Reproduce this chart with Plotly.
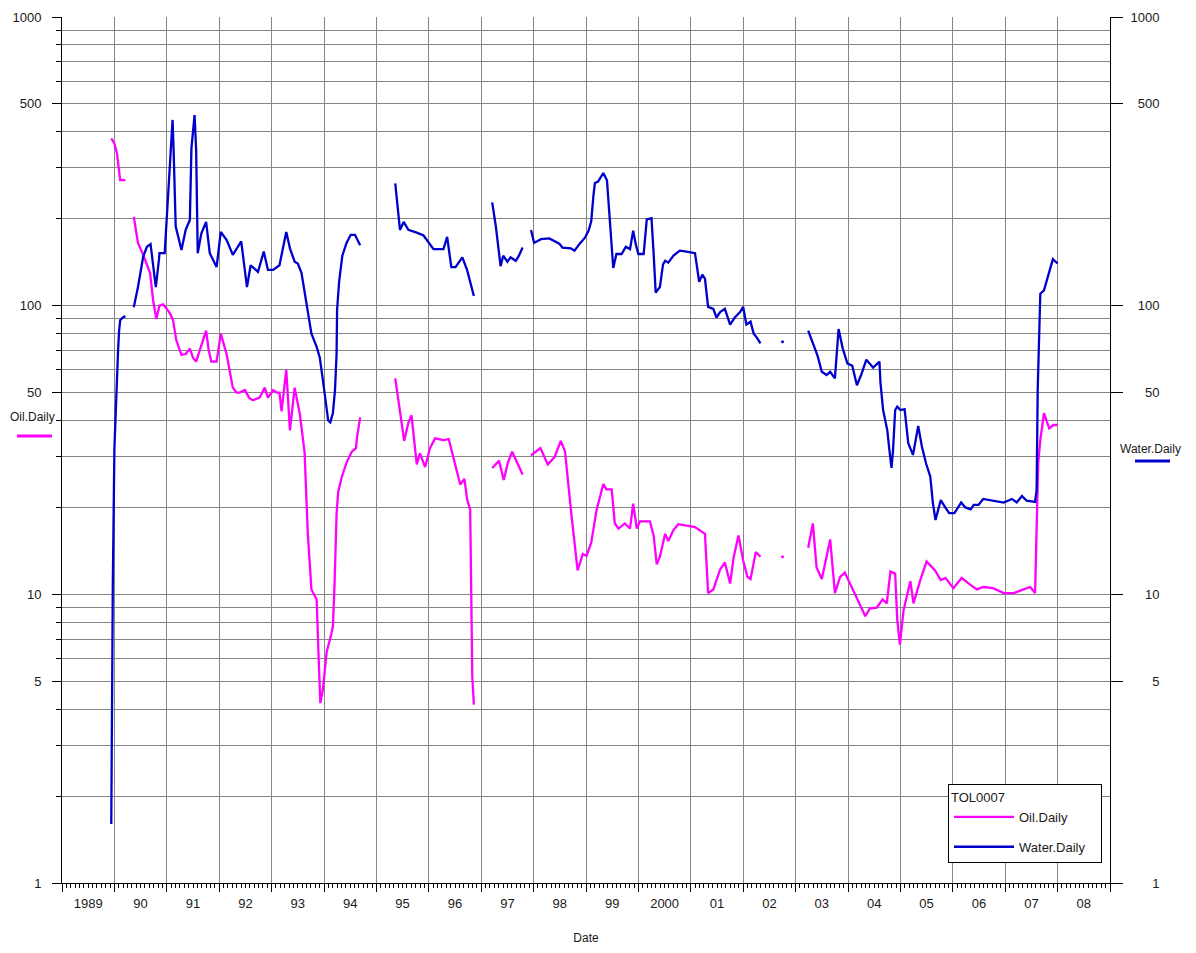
import plotly.graph_objects as go

# ---------------- data (decimal years, None = gap in record) ----------------
oil_year = [
    1989.94, 1990.00, 1990.05, 1990.09, 1990.11, 1990.21, None,
    1990.37, 1990.45, 1990.55, 1990.62, 1990.68, 1990.74, 1990.80, 1990.86, 1990.93, 1990.99,
    1991.06, 1991.12, 1991.18, 1991.28, 1991.36, 1991.44, 1991.50, 1991.56, 1991.65, 1991.75,
    1991.80, 1991.85, 1991.95, 1992.03, 1992.14, 1992.20, 1992.26, 1992.33, 1992.39, 1992.49,
    1992.57, 1992.64, 1992.77, 1992.87, 1992.93, 1993.03, 1993.10, 1993.15, 1993.19, 1993.28,
    1993.35, 1993.44, 1993.54, 1993.63, 1993.66, 1993.69, 1993.76, 1993.86, 1993.89, 1993.93,
    1993.98, 1994.05, 1994.14, 1994.17, 1994.20, 1994.24, 1994.27, 1994.34, 1994.43, 1994.53,
    1994.61, 1994.63, 1994.69, None,
    1995.36, 1995.45, 1995.53, 1995.61, 1995.67, 1995.77, 1995.83, 1995.93, 1996.02, 1996.12,
    1996.28, 1996.38, 1996.48, 1996.60, 1996.68, 1996.73, 1996.79, 1996.81, 1996.83, 1996.86, None,
    1997.21, 1997.34, 1997.43, 1997.51, 1997.59, 1997.69, 1997.79, None,
    1997.95, 1998.13, 1998.27, 1998.40, 1998.52, 1998.60, 1998.72, 1998.84, 1998.94, 1999.01,
    1999.10, 1999.20, 1999.33, 1999.39, 1999.49, 1999.55, 1999.62, 1999.74, 1999.84, 1999.90,
    1999.97, 2000.03, 2000.22, 2000.29, 2000.35, 2000.41, 2000.51, 2000.57, 2000.67, 2000.76,
    2000.92, 2001.08, 2001.27, 2001.33, 2001.43, 2001.56, 2001.65, 2001.75, 2001.82, 2001.91,
    2002.00, 2002.08, 2002.14, 2002.24, 2002.33, None,
    2002.75, None,
    2003.24, 2003.33, 2003.40, 2003.50, 2003.59, 2003.66, 2003.75, 2003.85, 2003.94, 2004.04,
    2004.17, 2004.33, 2004.42, 2004.55, 2004.66, 2004.74, 2004.81, 2004.90, 2004.94, 2004.99,
    2005.06, 2005.19, 2005.25, 2005.38, 2005.50, 2005.66, 2005.77, 2005.86, 2006.01, 2006.17,
    2006.33, 2006.46, 2006.58, 2006.77, 2006.97, 2007.16, 2007.35, 2007.48, 2007.57, 2007.60,
    2007.63, 2007.67, 2007.74, 2007.84, 2007.92, 2008.00,
]
oil_daily = [
    380, 365, 337, 295, 272, 272, None,
    203, 165, 150, 140, 130, 104, 90, 100, 101, 98,
    94, 89, 76, 67.5, 68, 71, 66, 64, 72, 82,
    70, 64, 64, 80, 68, 60, 52, 50, 50, 51,
    48, 47, 48, 52, 48, 51, 50, 50, 43, 60,
    37, 52, 42, 31, 22.4, 16.3, 10.4, 9.6, 6.6, 4.2,
    4.7, 6.3, 7.3, 7.75, 10.7, 19.0, 22.6, 25.5, 28.6, 31.2,
    32.1, 35, 41, None,
    56, 43, 34, 39.3, 41.7, 28.2, 30.8, 27.6, 32, 34.7,
    34.2, 34.5, 29.4, 24.0, 25.1, 21.4, 19.6, 9.2, 5.2, 4.15, None,
    27.4, 29, 24.9, 28.6, 31.2, 28.6, 26.0, None,
    30.3, 32.1, 28.2, 29.9, 34, 31.2, 19.0, 12.1, 13.8, 13.6,
    15.1, 19.5, 24.1, 23.1, 23.1, 17.6, 16.9, 17.6, 16.9, 20.6,
    16.9, 17.9, 17.9, 16.0, 12.7, 13.5, 16.2, 15.3, 16.7, 17.5,
    17.3, 17.1, 16.2, 10.1, 10.4, 12.2, 12.9, 10.9, 13.5, 16.0,
    13.1, 11.5, 11.3, 14.0, 13.5, None,
    13.5, None,
    14.5, 17.6, 12.4, 11.3, 13.5, 15.5, 10.1, 11.5, 11.9, 10.9,
    9.8, 8.4, 8.95, 9.0, 9.6, 9.3, 12.0, 11.8, 8.15, 6.7,
    8.8, 11.1, 9.3, 11.2, 13.0, 12.1, 11.2, 11.4, 10.5, 11.4,
    10.8, 10.4, 10.6, 10.5, 10.1, 10.1, 10.4, 10.6, 10.1, 16.3,
    28.4, 34.3, 42.4, 37.6, 38.6, 38.6,
]

water_year = [
    1989.94, 1989.95, 1989.97, 1990.00, 1990.03, 1990.07, 1990.09, 1990.11, 1990.16, 1990.21, None,
    1990.37, 1990.45, 1990.55, 1990.62, 1990.69, 1990.72, 1990.79, 1990.85, 1990.86, 1990.96,
    1990.99, 1991.04, 1991.09, 1991.11, 1991.13, 1991.17, 1991.28, 1991.36, 1991.44, 1991.47,
    1991.53, 1991.56, 1991.59, 1991.66, 1991.75, 1991.82, 1991.95, 1992.03, 1992.14, 1992.26,
    1992.42, 1992.53, 1992.60, 1992.74, 1992.85, 1992.93, 1993.03, 1993.15, 1993.28, 1993.35,
    1993.44, 1993.50, 1993.57, 1993.66, 1993.76, 1993.86, 1993.92, 1993.98, 1994.03, 1994.08,
    1994.12, 1994.17, 1994.21, 1994.24, 1994.25, 1994.29, 1994.35, 1994.43, 1994.51, 1994.59,
    1994.69, None,
    1995.36, 1995.45, 1995.52, 1995.61, 1995.77, 1995.90, 1996.09, 1996.28, 1996.35, 1996.43,
    1996.51, 1996.64, 1996.73, 1996.80, 1996.86, None,
    1997.21, 1997.28, 1997.37, 1997.42, 1997.50, 1997.56, 1997.66, 1997.72, 1997.79, None,
    1997.95, 1998.01, 1998.14, 1998.30, 1998.49, 1998.55, 1998.71, 1998.78, 1998.88, 1998.98,
    1999.05, 1999.10, 1999.14, 1999.17, 1999.23, 1999.33, 1999.40, 1999.45, 1999.49, 1999.52,
    1999.58, 1999.68, 1999.76, 1999.84, 1999.90, 1999.95, 2000.00, 2000.10, 2000.16, 2000.25,
    2000.29, 2000.33, 2000.41, 2000.47, 2000.51, 2000.57, 2000.67, 2000.79, 2000.92, 2001.08,
    2001.16, 2001.22, 2001.27, 2001.33, 2001.43, 2001.49, 2001.56, 2001.65, 2001.75, 2001.84,
    2001.94, 2002.00, 2002.06, 2002.14, 2002.20, 2002.25, 2002.33, None,
    2002.75, None,
    2003.24, 2003.33, 2003.42, 2003.50, 2003.59, 2003.66, 2003.75, 2003.82, 2003.90, 2003.99,
    2004.08, 2004.17, 2004.25, 2004.35, 2004.42, 2004.48, 2004.60, 2004.62, 2004.67, 2004.75,
    2004.79, 2004.83, 2004.86, 2004.90, 2004.94, 2005.00, 2005.08, 2005.15, 2005.24, 2005.34,
    2005.41, 2005.49, 2005.57, 2005.62, 2005.67, 2005.77, 2005.85, 2005.93, 2006.03, 2006.16,
    2006.24, 2006.34, 2006.40, 2006.49, 2006.58, 2006.77, 2006.97, 2007.13, 2007.22, 2007.32,
    2007.41, 2007.57, 2007.60, 2007.62, 2007.64, 2007.67, 2007.74, 2007.82, 2007.91, 2008.00,
]
water_daily = [
    1.6, 3.7, 11, 32, 47, 70, 82, 89, 91, 92, None,
    98.7, 116, 148, 160, 163.5, 148, 116, 144, 152, 152,
    188, 287, 406, 440, 346, 188, 156, 183, 198, 351,
    457, 346, 152, 178, 195, 152, 136, 180, 169, 150,
    167, 116, 138, 131, 154, 133, 133, 138, 180, 158,
    142, 140, 130, 105, 80, 72, 66, 55, 47, 40,
    39.4, 42.5, 51, 68, 97, 122, 149, 165, 176, 176,
    162, None,
    265, 183, 195, 183, 179, 175, 157, 157, 173, 136,
    136, 147, 133, 118, 108, None,
    228, 188, 137, 149, 142, 147, 143, 149, 159, None,
    183, 165, 170, 171, 164, 159, 158, 155, 164, 172,
    182, 196, 239, 266, 269, 288, 272, 207, 160, 135,
    151, 151, 160, 157, 182, 163, 151, 151, 199, 201,
    152, 111, 116, 139, 143, 141, 149, 155, 154, 152,
    121, 128, 124, 99, 97.5, 91, 95, 97.5, 86, 91,
    95, 99, 86, 88, 80, 78, 74, None,
    75, None,
    82, 74, 67, 59, 57.5, 59, 56, 83, 71, 63,
    62, 53, 57.5, 65, 63, 61, 64, 54, 43.5, 37,
    31.6, 27.4, 31.6, 43.5, 44.7, 43.5, 43.8, 33.4, 30.4, 38.3,
    32.5, 28.4, 25.6, 20.7, 18.1, 21.2, 20.1, 19.1, 19.1, 20.8,
    20.0, 19.7, 20.4, 20.4, 21.4, 21.1, 20.8, 21.4, 20.8, 21.9,
    21.1, 20.9, 23.0, 51, 78, 110, 113, 128, 145, 140,
]

year_labels = ["1989", "90", "91", "92", "93", "94", "95", "96", "97", "98",
               "99", "2000", "01", "02", "03", "04", "05", "06", "07", "08"]
first_year = 1989
value_ticks = [1, 5, 10, 50, 100, 500, 1000]
value_labels = ["1", "5", "10", "50", "100", "500", "1000"]
series_names = ["Oil.Daily", "Water.Daily"]
well_name = "TOL0007"

# ---------------- styling ----------------
OIL = "#FF00FF"
WATER = "#0000CD"
GRID = "#858585"
FONT = "Liberation Sans, Arial, sans-serif"
TXT = "#1a1a1a"
FS = 13

# page body has an 8px margin, so the figure is drawn 8px in from the window edge
PAGE = 8
W, H = 1196 - 2 * PAGE, 953 - 2 * PAGE
ML, MT = 62 - PAGE, 17 - PAGE
MR = W - (1110 - PAGE)
MB = H - (883 - PAGE)
pw, ph = W - ML - MR, H - MT - MB


def px_x(p):  # window pixel -> paper fraction
    return (p - PAGE - ML) / pw


def px_y(p):
    return (H - MB - (p - PAGE)) / ph


def isolated(xs, ys):
    ox, oy = [], []
    for i, v in enumerate(ys):
        prev_gap = i == 0 or ys[i - 1] is None
        next_gap = i == len(ys) - 1 or ys[i + 1] is None
        if v is not None and prev_gap and next_gap:
            ox.append(xs[i])
            oy.append(v)
    return ox, oy


x_range = [first_year, first_year + len(year_labels)]
mid_years = [first_year + i + 0.5 for i in range(len(year_labels))]
minor_vals = [m * 10 ** d for d in range(0, 3) for m in range(2, 10)]
right_labels = ["\u00a0" * (2 * (4 - len(s))) + s for s in value_labels]
# pad the legend title with invisible spaces so the box is as wide as the original
legend_title = well_name + "\u00a0" * 26

fig = go.Figure()
fig.add_trace(go.Scatter(
    x=oil_year, y=oil_daily, name=series_names[0], mode="lines",
    line=dict(color=OIL, width=2.3), connectgaps=False, xaxis="x", yaxis="y",
    legendgroup="oil",
))
ox, oy = isolated(oil_year, oil_daily)
fig.add_trace(go.Scatter(x=ox, y=oy, mode="markers", marker=dict(color=OIL, size=3),
                         showlegend=False, xaxis="x", yaxis="y"))
fig.add_trace(go.Scatter(
    x=water_year, y=water_daily, name=series_names[1], mode="lines",
    line=dict(color=WATER, width=2.3), connectgaps=False, xaxis="x2", yaxis="y2",
    legendgroup="water",
))
wx, wy = isolated(water_year, water_daily)
fig.add_trace(go.Scatter(x=wx, y=wy, mode="markers", marker=dict(color=WATER, size=3),
                         showlegend=False, xaxis="x2", yaxis="y2"))

fig.update_layout(
    width=W, height=H,
    margin=dict(l=ML, r=MR, t=MT, b=MB, autoexpand=False),
    paper_bgcolor="white", plot_bgcolor="white",
    font=dict(family=FONT, size=FS, color=TXT),
    showlegend=True,
    legend=dict(
        title=dict(text=legend_title, font=dict(size=FS)),
        x=px_x(1102), xanchor="right", y=px_y(863), yanchor="bottom",
        bgcolor="white", bordercolor="#000000", borderwidth=1,
        font=dict(size=FS), itemwidth=60, tracegroupgap=10,
    ),
    xaxis=dict(
        range=x_range, tickmode="array", tickvals=mid_years, ticktext=year_labels,
        ticks="", showgrid=False, zeroline=False, automargin=False,
        showline=True, linecolor="#000000", linewidth=1,
        minor=dict(tickmode="linear", tick0=first_year, dtick=1 / 12, ticks="outside",
                   ticklen=4, tickcolor="#000000", tickwidth=1, showgrid=False),
        ticklabelstandoff=8,
        title=dict(text="Date", font=dict(size=FS - 1), standoff=24),
        fixedrange=True,
    ),
    xaxis2=dict(
        range=x_range, overlaying="x", anchor="y2", side="bottom",
        tickmode="linear", tick0=first_year, dtick=1, automargin=False,
        ticks="outside", ticklen=8, tickcolor="#000000", tickwidth=1,
        showticklabels=False, showgrid=True, gridcolor=GRID, gridwidth=1,
        showline=False, zeroline=False,
    ),
    yaxis=dict(
        type="log", range=[0, 3], tickmode="array", tickvals=value_ticks, ticktext=value_labels,
        ticks="outside", ticklen=9, tickcolor="#000000", tickwidth=1, automargin=False,
        showgrid=True, gridcolor=GRID, gridwidth=1,
        showline=True, linecolor="#000000", linewidth=1, zeroline=False,
        minor=dict(tickmode="array", tickvals=minor_vals, ticks="outside", ticklen=5,
                   tickcolor="#000000", tickwidth=1, showgrid=True, gridcolor=GRID, gridwidth=1),
        ticklabelstandoff=8,
    ),
    yaxis2=dict(
        type="log", range=[0, 3], overlaying="y", side="right", anchor="x2",
        tickmode="array", tickvals=value_ticks, ticktext=right_labels, automargin=False,
        ticks="outside", ticklen=12, tickcolor="#000000", tickwidth=1,
        showgrid=False, showline=True, linecolor="#000000", linewidth=1, zeroline=False,
        ticklabelstandoff=5,
    ),
)

# axis captions with colour swatches
fig.add_annotation(text=series_names[0], xref="paper", yref="paper", xanchor="center",
                   x=px_x(32), y=px_y(417), showarrow=False, font=dict(size=FS - 1, color=TXT))
fig.add_shape(type="line", xref="paper", yref="paper", x0=px_x(17), x1=px_x(52),
              y0=px_y(436), y1=px_y(436), line=dict(color=OIL, width=3))
fig.add_annotation(text=series_names[1], xref="paper", yref="paper", xanchor="center",
                   x=px_x(1150), y=px_y(449), showarrow=False, font=dict(size=FS - 1, color=TXT))
fig.add_shape(type="line", xref="paper", yref="paper", x0=px_x(1135), x1=px_x(1170),
              y0=px_y(461), y1=px_y(461), line=dict(color=WATER, width=3))

fig.write_html("out.html")
